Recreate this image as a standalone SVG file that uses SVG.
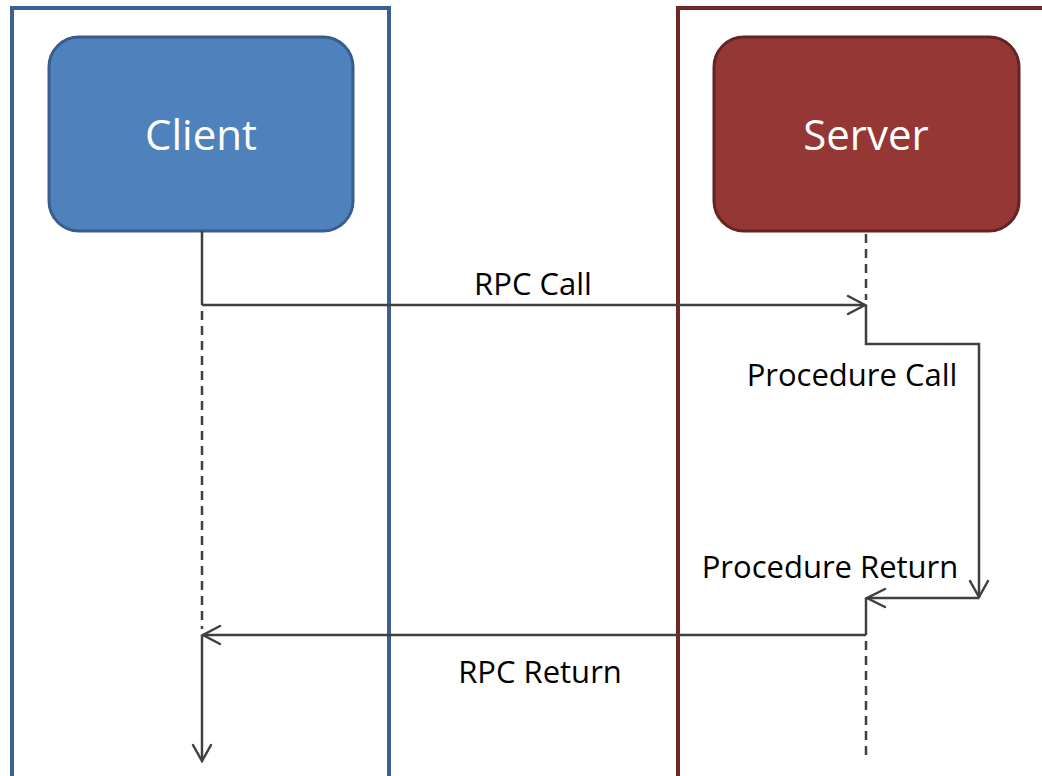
<svg xmlns="http://www.w3.org/2000/svg" width="1042" height="776" viewBox="0 0 1042 776">
  <style>
    .lane-client { fill: none; stroke: #3C6090; stroke-width: 4; }
    .lane-server { fill: none; stroke: #6E2A29; stroke-width: 4; }
    .node-client { fill: #4F81BD; stroke: #385D8A; stroke-width: 3; }
    .node-server { fill: #953735; stroke: #632523; stroke-width: 3; }
    .title { font-family: "Open Sans", "Liberation Sans", sans-serif; font-size: 42px; fill: #FFFFFF; text-anchor: middle; }
    .label { font-family: "Open Sans", "Liberation Sans", sans-serif; font-size: 31px; fill: #000000; text-anchor: middle; }
    .flow { fill: none; stroke: #404040; stroke-width: 2.5; }
    .life { fill: none; stroke: #404040; stroke-width: 2.5; stroke-dasharray: 9 6; }
    .head { fill: none; stroke: #404040; stroke-width: 2.5; stroke-linecap: round; stroke-linejoin: miter; }
  </style>

  <!-- swimlane frames -->
  <g id="lane-client">
    <rect class="lane-client" x="12" y="8" width="377" height="800"/>
  </g>
  <g id="lane-server">
    <rect class="lane-server" x="678" y="8" width="400" height="800"/>
  </g>

  <!-- participants -->
  <g id="client">
    <rect class="node-client" x="49" y="37" width="304" height="194" rx="30" ry="30"/>
    <text class="title" x="201" y="150">Client</text>
  </g>
  <g id="server">
    <rect class="node-server" x="714" y="37" width="305" height="194" rx="30" ry="30"/>
    <text class="title" x="866" y="150">Server</text>
  </g>

  <!-- lifelines and messages -->
  <g id="connectors">
    <!-- client lifeline -->
    <path class="flow" d="M202 231 V305"/>
    <path class="life" d="M202 311 V629"/>
    <path class="flow" d="M202 635 V761"/>
    <path class="head" d="M193 745 L202 761 L211 745"/>

    <!-- server lifeline -->
    <path class="life" d="M866 234 V300"/>
    <path class="flow" d="M866 598 V635"/>
    <path class="life" d="M866 641 V757"/>

    <!-- RPC Call -->
    <path class="flow" d="M202 305 H865"/>
    <path class="head" d="M848 296 L865 305 L848 314"/>

    <!-- Procedure Call / Return loop -->
    <path class="flow" d="M866 305 V344 H979 V597"/>
    <path class="head" d="M970 581 L979 597 L988 581"/>
    <path class="flow" d="M979 598 H867"/>
    <path class="head" d="M885 589 L867 598 L885 607"/>

    <!-- RPC Return -->
    <path class="flow" d="M866 635 H203"/>
    <path class="head" d="M220 626 L203 635 L220 644"/>
  </g>

  <!-- message labels -->
  <g id="labels">
    <text class="label" x="533" y="295">RPC Call</text>
    <text class="label" x="852" y="386">Procedure Call</text>
    <text class="label" x="830" y="578">Procedure Return</text>
    <text class="label" x="540" y="683">RPC Return</text>
  </g>
</svg>
